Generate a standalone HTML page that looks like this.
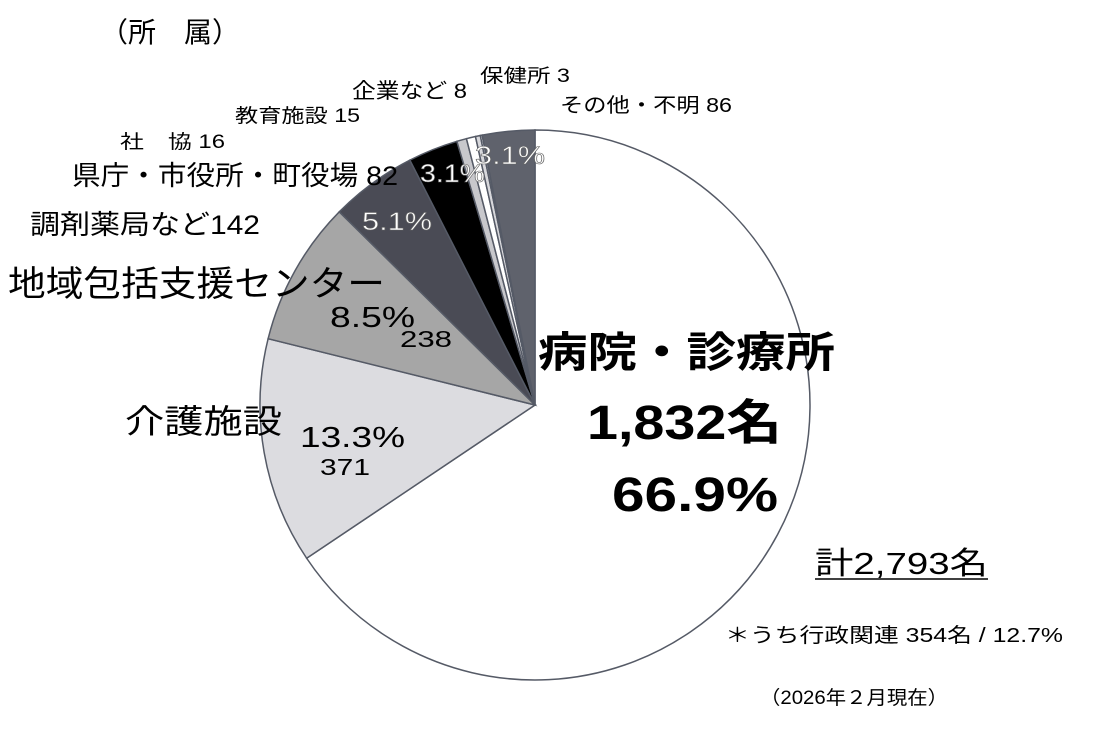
<!DOCTYPE html>
<html><head><meta charset="utf-8"><style>
body{margin:0;background:#fff;width:1102px;height:734px;overflow:hidden;font-family:"Liberation Sans","Noto Sans CJK JP",sans-serif;}
svg text{font-family:"Liberation Sans","Noto Sans CJK JP",sans-serif;}
</style></head><body>
<svg id="chart" width="1102" height="734">
<g id="slices"></g>
<g lengthAdjust="spacingAndGlyphs">
<text x="100" y="42" font-size="28" textLength="140" lengthAdjust="spacingAndGlyphs">（所　属）</text>
<text x="480" y="82" font-size="19" textLength="90" lengthAdjust="spacingAndGlyphs">保健所 3</text>
<text x="352" y="98" font-size="21" textLength="115" lengthAdjust="spacingAndGlyphs">企業など 8</text>
<text x="560" y="112" font-size="20" textLength="172" lengthAdjust="spacingAndGlyphs">その他・不明 86</text>
<text x="235" y="122" font-size="19" textLength="125" lengthAdjust="spacingAndGlyphs">教育施設 15</text>
<text x="120" y="148" font-size="19" textLength="105" lengthAdjust="spacingAndGlyphs">社　協 16</text>
<text x="72" y="185" font-size="27" textLength="326" lengthAdjust="spacingAndGlyphs">県庁・市役所・町役場 82</text>
<text x="30" y="234" font-size="27" textLength="230" lengthAdjust="spacingAndGlyphs">調剤薬局など142</text>
<text x="8" y="296" font-size="35" textLength="377" lengthAdjust="spacingAndGlyphs">地域包括支援センター</text>
<text x="125" y="433" font-size="33" textLength="157" lengthAdjust="spacingAndGlyphs">介護施設</text>
<g font-size="25" fill="#fff" stroke="#666" stroke-width="0.6">
<text x="475" y="164" textLength="70" lengthAdjust="spacingAndGlyphs">3.1%</text>
<text x="420" y="182" textLength="65" lengthAdjust="spacingAndGlyphs">3.1%</text>
<text x="362" y="230" textLength="70" lengthAdjust="spacingAndGlyphs">5.1%</text>
</g>
<text x="330" y="327" font-size="29" textLength="85" lengthAdjust="spacingAndGlyphs">8.5%</text>
<text x="400" y="347" font-size="23" textLength="52" lengthAdjust="spacingAndGlyphs">238</text>
<text x="300" y="447" font-size="29" textLength="105" lengthAdjust="spacingAndGlyphs">13.3%</text>
<text x="320" y="475" font-size="23" textLength="50" lengthAdjust="spacingAndGlyphs">371</text>
<text x="538" y="367" font-size="42" font-weight="bold" textLength="297" lengthAdjust="spacingAndGlyphs">病院・診療所</text>
<text x="587" y="439" font-size="48" font-weight="bold" textLength="195" lengthAdjust="spacingAndGlyphs">1,832名</text>
<text x="612" y="511" font-size="48" font-weight="bold" textLength="166" lengthAdjust="spacingAndGlyphs">66.9%</text>
<text x="815" y="574" font-size="31" textLength="173" lengthAdjust="spacingAndGlyphs">計2,793名</text>
<line x1="815" y1="579" x2="988" y2="579" stroke="#000" stroke-width="1.5"/>
<text x="725" y="642" font-size="20" textLength="338" lengthAdjust="spacingAndGlyphs">＊うち行政関連 354名 / 12.7%</text>
<text x="760" y="704" font-size="19" textLength="188" lengthAdjust="spacingAndGlyphs">（2026年２月現在）</text>
</g>
</svg>
<script>
const categories=["病院・診療所","介護施設","地域包括支援センター","調剤薬局など","県庁・市役所・町役場","社協","教育施設","企業など","保健所","その他・不明"];
const values=[1832,371,238,142,82,16,15,8,3,86];
const colors=["#ffffff","#dcdce0","#a6a6a6","#4a4b55","#000000","#c8c8cc","#ffffff","#d8d8dc","#ffffff","#5f626c"];
const cx=535,cy=405,r=275;
const total=values.reduce((a,b)=>a+b,0);
const g=document.getElementById('slices');
let a0=0;
values.forEach((v,i)=>{
  const a1=a0+v/total*2*Math.PI;
  const x0=cx+r*Math.sin(a0),y0=cy-r*Math.cos(a0),x1=cx+r*Math.sin(a1),y1=cy-r*Math.cos(a1);
  const p=document.createElementNS('http://www.w3.org/2000/svg','path');
  p.setAttribute('d',`M${cx},${cy}L${x0},${y0}A${r},${r} 0 ${a1-a0>Math.PI?1:0} 1 ${x1},${y1}Z`);
  p.setAttribute('fill',colors[i]);
  p.setAttribute('stroke','#555a66');
  p.setAttribute('stroke-width','1.5');
  
  
  g.appendChild(p);
  a0=a1;
});
</script>
</body></html>
